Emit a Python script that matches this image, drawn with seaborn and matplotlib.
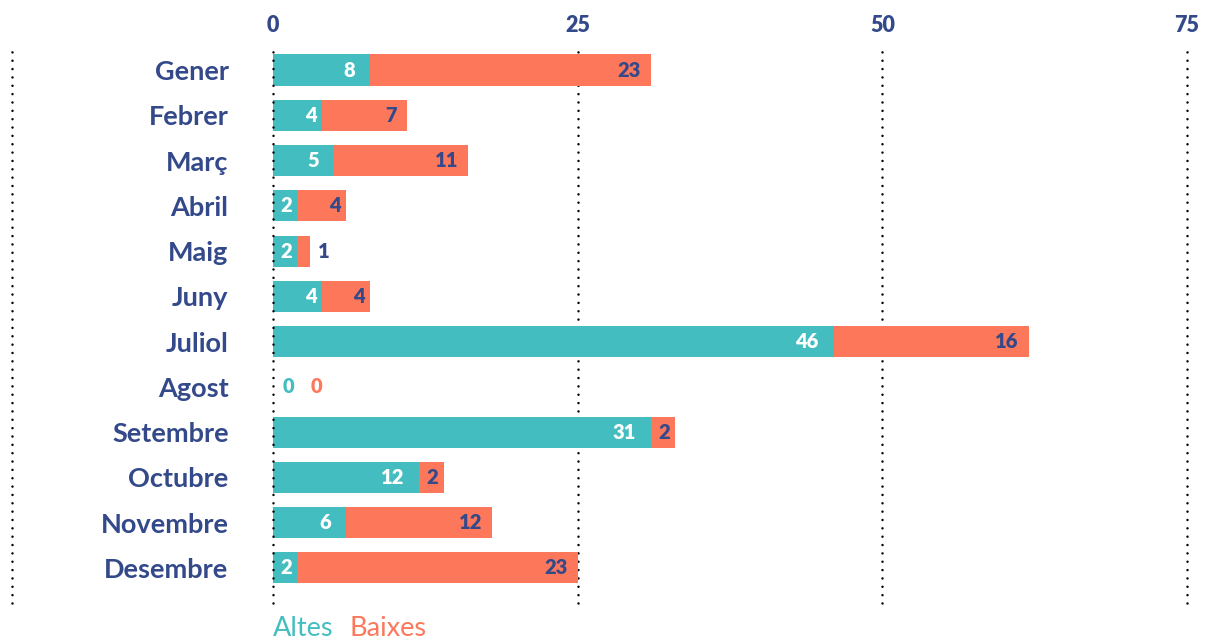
import matplotlib.pyplot as plt
import pandas as pd
import seaborn as sns

# Dades per mes
mesos = ["Gener", "Febrer", "Març", "Abril", "Maig", "Juny", "Juliol",
         "Agost", "Setembre", "Octubre", "Novembre", "Desembre"]
altes = [8, 4, 5, 2, 2, 4, 46, 0, 31, 12, 6, 2]
baixes = [23, 7, 11, 4, 1, 4, 16, 0, 2, 2, 12, 23]
x_ticks = [0, 25, 50, 75]

TEAL = "#44bdc0"
CORAL = "#fd775b"
NAVY = "#33498a"

sns.set_style("white")
plt.rcParams["font.family"] = ["Lato", "DejaVu Sans"]

df = pd.DataFrame({"mes": mesos, "altes": altes, "baixes": baixes})
df["total"] = df["altes"] + df["baixes"]

W, H = 1205, 641
fig = plt.figure(figsize=(W / 100, H / 100), dpi=100)
ax = fig.add_axes([273 / W, 1 - 603 / H, (1187 - 273) / W, (603 - 48) / H])

dotted = dict(color="black", lw=1.8, linestyle=(0, (0.01, 3.33)),
              dash_capstyle="round", clip_on=False)
for t in x_ticks[1:]:
    ax.axvline(t, zorder=0, **dotted)

# barres apilades: total (baixes) i altes a sobre
sns.barplot(data=df, y="mes", x="total", color=CORAL, width=0.685,
            saturation=1, linewidth=0, ax=ax, zorder=2)
sns.barplot(data=df, y="mes", x="altes", color=TEAL, width=0.685,
            saturation=1, linewidth=0, ax=ax, zorder=3)

ax.axvline(0, zorder=4, **dotted)
# línia puntejada a l'esquerra
ax.axvline(-21.4, zorder=4, **dotted)

ax.set_xlim(0, 75)
ax.set_ylim(11.774, -0.486)
ax.xaxis.tick_top()
ax.set_xticks(x_ticks, labels=[str(t) for t in x_ticks], fontweight="heavy")
ax.set_yticks(range(len(mesos)), labels=mesos, fontweight="bold")
ax.tick_params(axis="x", length=0, pad=9, labelsize=15.5, labelcolor=NAVY)
ax.tick_params(axis="y", length=0, pad=32, labelsize=19.5, labelcolor=NAVY)
ax.set_xlabel("")
ax.set_ylabel("")
sns.despine(ax=ax, left=True, bottom=True)
ax.grid(False)

FS = 14.5
WT = "heavy"
for i, (a, b) in enumerate(zip(altes, baixes)):
    if a == 0 and b == 0:
        ax.annotate("0", (0, i), xytext=(7, 0), textcoords="offset points",
                    ha="left", va="center", color=TEAL, fontsize=FS,
                    fontweight=WT)
        ax.annotate("0", (0, i), xytext=(27, 0), textcoords="offset points",
                    ha="left", va="center", color=CORAL, fontsize=FS,
                    fontweight=WT)
        continue
    pad_a = 11 if a * 12.19 > 50 else 4
    ax.annotate(str(a), (a, i), xytext=(-pad_a, 0), textcoords="offset points",
                ha="right", va="center", color="white", fontsize=FS,
                fontweight=WT, zorder=5)
    if b * 12.19 < 18:
        ax.annotate(str(b), (a + b, i), xytext=(6, 0),
                    textcoords="offset points", ha="left", va="center",
                    color=NAVY, fontsize=FS, fontweight=WT, zorder=5)
    else:
        pad_b = 7 if b * 12.19 > 50 else 4
        ax.annotate(str(b), (a + b, i), xytext=(-pad_b, 0),
                    textcoords="offset points", ha="right", va="center",
                    color=NAVY, fontsize=FS, fontweight=WT, zorder=5)

# llegenda
fig.text(273 / W, 1 - 628 / H, "Altes", color=TEAL, fontsize=19.5,
         ha="left", va="center")
fig.text(349 / W, 1 - 628 / H, "Baixes", color=CORAL, fontsize=19.5,
         ha="left", va="center")

fig.savefig("out.png", dpi=100)
